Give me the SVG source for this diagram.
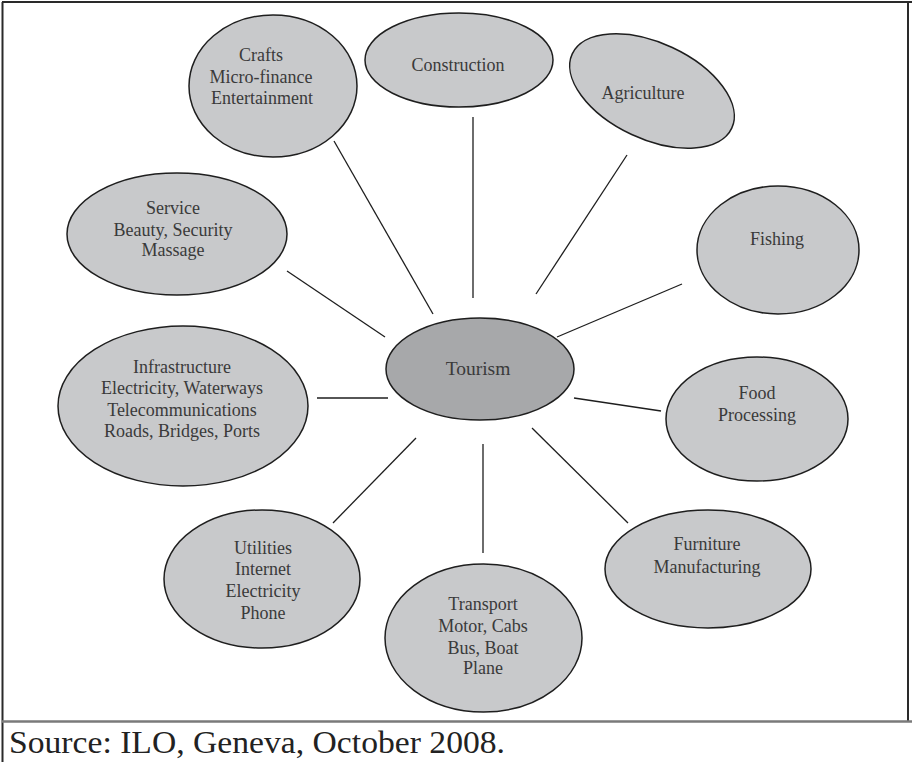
<svg xmlns="http://www.w3.org/2000/svg" width="912" height="762" viewBox="0 0 912 762">
<style>
.n{fill:#c8c9cb;stroke:#1e1e1e;stroke-width:1.5}
.c{fill:#a7a8aa;stroke:#1e1e1e;stroke-width:1.5}
.t{font-family:"Liberation Serif","Times New Roman",serif;font-size:18px;fill:#3a3a3a;text-anchor:middle}
.e{stroke:#1e1e1e;stroke-width:1.3;fill:none}
.f{stroke:#2a2a2a;stroke-width:2;fill:none}
</style>
<rect x="0" y="0" width="912" height="762" fill="#ffffff"/>
<g id="frame">
<line class="f" x1="2" y1="2" x2="912" y2="2"/>
<line class="f" x1="2.5" y1="2" x2="2.5" y2="762"/>
<line class="f" x1="908" y1="2" x2="908" y2="721"/>
<line x1="2" y1="721.5" x2="912" y2="721.5" stroke="#7a7a7a" stroke-width="2.5"/>
</g>
<g id="connectors">
<line class="e" x1="334" y1="141" x2="433" y2="314"/>
<line class="e" x1="473" y1="117" x2="473" y2="298"/>
<line class="e" x1="627" y1="155" x2="536" y2="294"/>
<line class="e" x1="682" y1="284" x2="557" y2="337"/>
<line class="e" x1="574" y1="398" x2="661" y2="411"/>
<line class="e" x1="532" y1="428" x2="628" y2="523"/>
<line class="e" x1="483" y1="444" x2="483" y2="553"/>
<line class="e" x1="416" y1="438" x2="333" y2="523"/>
<line class="e" x1="317" y1="398" x2="388" y2="398"/>
<line class="e" x1="287" y1="271" x2="385" y2="337"/>
</g>
<g id="crafts">
<ellipse class="n" cx="273" cy="86" rx="84" ry="71"/>
<text class="t" x="261" y="61">Crafts</text>
<text class="t" x="261" y="83">Micro-finance</text>
<text class="t" x="262" y="104">Entertainment</text>
</g>
<g id="construction">
<ellipse class="n" cx="459" cy="60" rx="94" ry="47"/>
<text class="t" x="458" y="71">Construction</text>
</g>
<g id="agriculture">
<ellipse class="n" cx="652" cy="91" rx="88" ry="48" transform="rotate(25 652 91)"/>
<text class="t" x="643" y="99">Agriculture</text>
</g>
<g id="fishing">
<ellipse class="n" cx="778" cy="250" rx="81" ry="64"/>
<text class="t" x="777" y="245">Fishing</text>
</g>
<g id="food">
<ellipse class="n" cx="757" cy="419" rx="91" ry="62"/>
<text class="t" x="757" y="399">Food</text>
<text class="t" x="757" y="421">Processing</text>
</g>
<g id="furniture">
<ellipse class="n" cx="708" cy="569" rx="103" ry="59"/>
<text class="t" x="707" y="550">Furniture</text>
<text class="t" x="707" y="573">Manufacturing</text>
</g>
<g id="transport">
<ellipse class="n" cx="483.5" cy="638" rx="98.5" ry="74"/>
<text class="t" x="483" y="610">Transport</text>
<text class="t" x="483" y="632">Motor, Cabs</text>
<text class="t" x="483" y="654">Bus, Boat</text>
<text class="t" x="483" y="674">Plane</text>
</g>
<g id="utilities">
<ellipse class="n" cx="262" cy="579" rx="98" ry="69"/>
<text class="t" x="263" y="554">Utilities</text>
<text class="t" x="263" y="575">Internet</text>
<text class="t" x="263" y="597">Electricity</text>
<text class="t" x="263" y="619">Phone</text>
</g>
<g id="infrastructure">
<ellipse class="n" cx="183" cy="406" rx="125" ry="80"/>
<text class="t" x="182" y="373">Infrastructure</text>
<text class="t" x="182" y="394">Electricity, Waterways</text>
<text class="t" x="182" y="416">Telecommunications</text>
<text class="t" x="182" y="437">Roads, Bridges, Ports</text>
</g>
<g id="service">
<ellipse class="n" cx="177" cy="234" rx="110" ry="61"/>
<text class="t" x="173" y="214">Service</text>
<text class="t" x="173" y="236">Beauty, Security</text>
<text class="t" x="173" y="256">Massage</text>
</g>
<g id="tourism">
<ellipse class="c" cx="480" cy="369" rx="94" ry="51"/>
<text class="t" x="478" y="375" style="font-size:19.5px">Tourism</text>
</g>
<text x="9" y="753" font-family="'Liberation Serif','Times New Roman',serif" font-size="32" fill="#222" textLength="496" lengthAdjust="spacingAndGlyphs">Source: ILO, Geneva, October 2008.</text>
</svg>
